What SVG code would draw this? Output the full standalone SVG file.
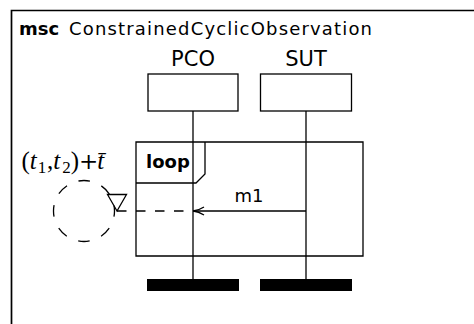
<svg xmlns="http://www.w3.org/2000/svg" width="474" height="324" viewBox="0 0 474 324">
<style>
  .ln { fill: none; stroke: #000; stroke-width: 1.3; }
  .frame { fill: none; stroke: #000; stroke-width: 1.7; }
  .sans { font-family: "DejaVu Sans", "Liberation Sans", sans-serif; fill: #000; }
  .math { font-family: "Liberation Serif", "DejaVu Serif", serif; fill: #000; }
  .bar { fill: #000; }
</style>
<defs>
  <marker id="open" viewBox="0 0 12 10" refX="11.5" refY="5" markerWidth="12" markerHeight="10" markerUnits="userSpaceOnUse" orient="auto">
    <path d="M0.5,1 Q6,4.5 11.5,5 Q6,5.5 0.5,9" fill="none" stroke="#000" stroke-width="1.3"/>
  </marker>
</defs>
<rect width="474" height="324" fill="#fff"/>

<g id="msc-frame">
  <path class="frame" d="M11.5,326 V10.5 H476"/>
  <text class="sans" x="19" y="35" font-size="18" font-weight="bold">msc</text>
  <text class="sans" x="69" y="35" font-size="18" textLength="303" lengthAdjust="spacing">ConstrainedCyclicObservation</text>
</g>

<g id="PCO">
  <text class="sans" x="193" y="66" font-size="21" text-anchor="middle">PCO</text>
  <rect class="ln" x="148" y="74" width="90" height="37"/>
  <rect class="bar" x="147" y="279" width="92" height="12"/>
</g>

<g id="SUT">
  <text class="sans" x="306" y="66" font-size="21" text-anchor="middle">SUT</text>
  <rect class="ln" x="260.5" y="74" width="91" height="37"/>
  <rect class="bar" x="260" y="279" width="92" height="12"/>
</g>

<g id="loop">
  <path class="ln" d="M136,142 H363 V256 H136 Z"/>
  <path class="ln" d="M136,183 H196 L205,174 V142"/>
  <text class="sans" x="146" y="168" font-size="18" font-weight="bold">loop</text>
</g>

<g id="timer">
  <circle class="ln" cx="84" cy="211" r="30.5" stroke-dasharray="11.5 12.45" stroke-dashoffset="5.75"/>
  <path class="ln" d="M107.5,194.5 H126.5 L117,211 Z"/>
  <text class="math" x="21.5" y="169" font-size="25">(<tspan font-style="italic">t</tspan><tspan dx="1" dy="4" font-size="17">1</tspan><tspan dx="0.7" dy="-4">,</tspan><tspan font-style="italic">t</tspan><tspan dx="2" dy="4" font-size="17">2</tspan><tspan dy="-4">)</tspan><tspan font-family="DejaVu Serif" font-size="23">+</tspan><tspan dx="-1" font-style="italic">t̄</tspan></text>
</g>

<g id="connectors">
  <line class="ln" x1="193" y1="111" x2="193" y2="279"/>
  <line class="ln" x1="306" y1="111" x2="306" y2="279"/>
  <line class="ln" x1="117" y1="211" x2="193" y2="211" stroke-dasharray="9.5 9.5"/>
  <line class="ln" x1="306" y1="211" x2="193" y2="211" marker-end="url(#open)"/>
  <text class="sans" x="249" y="202" font-size="18" text-anchor="middle">m1</text>
</g>
</svg>
